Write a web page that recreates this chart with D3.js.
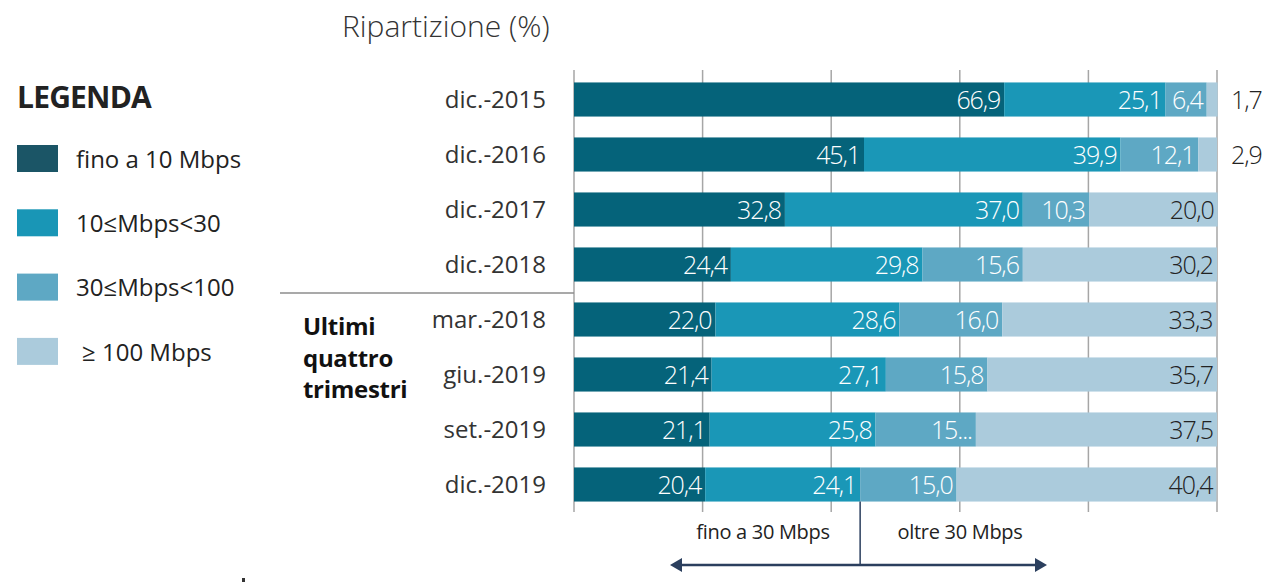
<!DOCTYPE html>
<html>
<head>
<meta charset="utf-8">
<script src="https://cdn.jsdelivr.net/npm/d3@7"></script>
<style>
  body { margin: 0; background: #fff; }
  svg text { font-family: "Open Sans", "Noto Sans", sans-serif; }
</style>
</head>
<body>
<div id="chart"></div>
<script>
"use strict";

// periodi (dall'alto verso il basso)
var categories = ["dic.-2015", "dic.-2016", "dic.-2017", "dic.-2018",
                  "mar.-2018", "giu.-2019", "set.-2019", "dic.-2019"];
var seriesNames = ["fino a 10 Mbps", "10\u2264Mbps<30", "30\u2264Mbps<100", "\u2265 100 Mbps"];
var fino10   = [66.9, 45.1, 32.8, 24.4, 22.0, 21.4, 21.1, 20.4];
var da10a30  = [25.1, 39.9, 37.0, 29.8, 28.6, 27.1, 25.8, 24.1];
var da30a100 = [6.4, 12.1, 10.3, 15.6, 16.0, 15.8, 15.6, 15.0];
var oltre100 = [1.7, 2.9, 20.0, 30.2, 33.3, 35.7, 37.5, 40.4];
var xTicks = [0, 20, 40, 60, 80, 100];
var colors = ["#05637a", "#1a97b7", "#5ea8c4", "#abcbdc"];
var legendColors = ["#1b5566", "#1996b6", "#5ea8c4", "#abcbdc"];

var width = 1265, height = 588;
var svg = d3.select("#chart").append("svg")
    .attr("width", width).attr("height", height);

var x = d3.scaleLinear().domain([0, 100]).range([574, 1217]);
var y = d3.scaleBand().domain(categories).range([72, 512]).paddingInner(0.38).paddingOuter(0.19);

var rows = categories.map(function (c, i) {
    return { cat: c, fino10: fino10[i], da10a30: da10a30[i], da30a100: da30a100[i], oltre100: oltre100[i] };
});
var keys = ["fino10", "da10a30", "da30a100", "oltre100"];
var stacked = d3.stack().keys(keys)(rows);

// griglia verticale
svg.append("g").selectAll("line")
    .data(xTicks).enter().append("line")
    .attr("x1", function (d) { return x(d); })
    .attr("x2", function (d) { return x(d); })
    .attr("y1", 70).attr("y2", 512)
    .attr("stroke", "#a6a6a6").attr("stroke-width", 1.5);

// barre
var layer = svg.append("g").selectAll("g")
    .data(stacked).enter().append("g")
    .attr("fill", function (d, i) { return colors[i]; });

layer.selectAll("rect")
    .data(function (d) { return d; })
    .enter().append("rect")
    .attr("x", function (d) { return x(d[0]); })
    .attr("width", function (d) { return x(d[1]) - x(d[0]); })
    .attr("y", function (d) { return y(d.data.cat); })
    .attr("height", y.bandwidth());

// etichette valori
var fmt = function (v) { return d3.format(".1f")(v).replace(".", ","); };
var shortLabel = { "set.-2019|2": "15..." };

layer.each(function (s, si) {
    d3.select(this).selectAll("text")
        .data(s).enter().append("text")
        .each(function (d) {
            var t = d3.select(this);
            var w = x(d[1]) - x(d[0]);
            var v = d[1] - d[0];
            var label = shortLabel[d.data.cat + "|" + si] || fmt(v);
            var yy = y(d.data.cat) + y.bandwidth() / 2;
            if (w < 20) {
                t.attr("x", x(100) + 14).attr("text-anchor", "start").attr("fill", "#222");
            } else {
                t.attr("x", x(d[1]) - 4).attr("text-anchor", "end")
                    .attr("fill", si === 3 ? "#222" : "#fff");
            }
            t.attr("y", yy).attr("dy", "0.36em")
                .attr("font-size", 25).attr("font-weight", 300)
                .attr("letter-spacing", -1.1)
                .text(label);
        });
});

// etichette categorie
svg.append("g").selectAll("text")
    .data(categories).enter().append("text")
    .attr("x", 546)
    .attr("y", function (d) { return y(d) + y.bandwidth() / 2; })
    .attr("dy", "0.36em")
    .attr("text-anchor", "end")
    .attr("font-size", 24).attr("fill", "#333")
    .text(function (d) { return d; });

// separatore ultimi trimestri
svg.append("line")
    .attr("x1", 280).attr("x2", 574).attr("y1", 293).attr("y2", 293)
    .attr("stroke", "#8c8c8c").attr("stroke-width", 1.5);

svg.append("text")
    .attr("x", 303).attr("y", 335)
    .attr("font-size", 24).attr("font-weight", 700).attr("fill", "#111")
    .attr("letter-spacing", -0.3)
    .selectAll("tspan")
    .data(["Ultimi", "quattro", "trimestri"]).enter().append("tspan")
    .attr("x", 303)
    .attr("dy", function (d, i) { return i === 0 ? 0 : 31.5; })
    .text(function (d) { return d; });

// titolo
svg.append("text")
    .attr("x", 342).attr("y", 37)
    .attr("font-size", 30).attr("font-weight", 300).attr("fill", "#333")
    .text("Ripartizione (%)");

// legenda
svg.append("text")
    .attr("x", 17).attr("y", 108)
    .attr("font-size", 30).attr("font-weight", 700).attr("fill", "#222")
    .attr("letter-spacing", -0.8)
    .text("LEGENDA");

var legend = svg.append("g").selectAll("g")
    .data(seriesNames).enter().append("g")
    .attr("transform", function (d, i) { return "translate(17," + (145 + i * 64.3) + ")"; });

legend.append("rect")
    .attr("width", 41).attr("height", 27)
    .attr("fill", function (d, i) { return legendColors[i]; });

legend.append("text")
    .attr("x", function (d, i) { return i === 3 ? 65 : 59; })
    .attr("y", 14).attr("dy", "0.36em")
    .attr("font-size", 24).attr("fill", "#222")
    .text(function (d) { return d; });

// soglia 30 Mbps
var cut = x(fino10[7] + da10a30[7]);
var arrowY = 565;
svg.append("line")
    .attr("x1", cut).attr("x2", cut)
    .attr("y1", y("dic.-2019") + y.bandwidth()).attr("y2", arrowY)
    .attr("stroke", "#2b3f5e").attr("stroke-width", 1.5);

svg.append("line")
    .attr("x1", 680).attr("x2", 1037).attr("y1", arrowY).attr("y2", arrowY)
    .attr("stroke", "#2b3f5e").attr("stroke-width", 2.5);

svg.append("path")
    .attr("d", "M670," + arrowY + "l12,-7v14z")
    .attr("fill", "#2b3f5e");
svg.append("path")
    .attr("d", "M1047," + arrowY + "l-12,-7v14z")
    .attr("fill", "#2b3f5e");

svg.append("text")
    .attr("x", 763).attr("y", 532).attr("dy", "0.36em")
    .attr("text-anchor", "middle").attr("font-size", 20).attr("fill", "#222")
    .attr("letter-spacing", -0.3)
    .text("fino a 30 Mbps");
svg.append("text")
    .attr("x", 960).attr("y", 532).attr("dy", "0.36em")
    .attr("text-anchor", "middle").attr("font-size", 20).attr("fill", "#222")
    .attr("letter-spacing", -0.3)
    .text("oltre 30 Mbps");

svg.append("rect")
    .attr("x", 242).attr("y", 578).attr("width", 3).attr("height", 4)
    .attr("fill", "#333");
</script>
</body>
</html>
